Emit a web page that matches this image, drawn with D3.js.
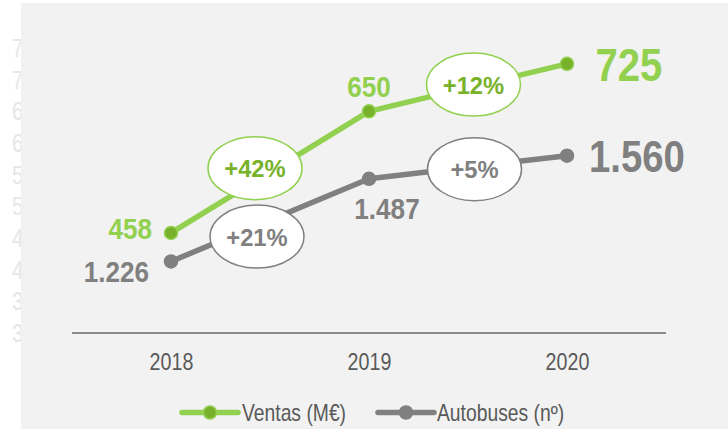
<!DOCTYPE html>
<html><head><meta charset="utf-8">
<script src="https://cdn.jsdelivr.net/npm/d3@7"></script>
<style>
html,body{margin:0;padding:0;background:#fff;}
svg{display:block;}
text{font-family:"Liberation Sans",Arial,sans-serif;}
</style></head>
<body>
<svg id="c" width="728" height="429"></svg>
<script>
const years = ["2018","2019","2020"];
const ventas = [458, 650, 725];
const autobuses = [1226, 1487, 1560];
const ventasLabels = ["458","650","725"];
const autobusesLabels = ["1.226","1.487","1.560"];
const ventasGrowth = ["+42%","+12%"];
const autobusesGrowth = ["+21%","+5%"];
const leftTicks = [300,350,400,450,500,550,600,650,700,750];
const seriesNames = ["Ventas (M€)","Autobuses (nº)"];

const svg = d3.select("#c");
const GREEN = "#92d050", GREEN_D = "#77b22a", GRAY = "#808080";

function txt(g, x, y, str, o){
  return g.append("text")
    .attr("transform",`translate(${x},${y}) scale(${o.sx||0.82},1)`)
    .attr("text-anchor",o.anchor||"start")
    .attr("font-size",o.fs).attr("font-weight",o.fw||"normal")
    .attr("fill",o.fill).text(str);
}

const x = d3.scalePoint().domain(years).range([72,666]).padding(0.5);
const yL = d3.scaleLinear().domain([300,750]).range([333,48]);
const yR = d3.scaleLinear().domain([1000,1900]).range([333,48]);

// faint left axis labels (mostly hidden by panel)
const lab = svg.append("g");
leftTicks.forEach(d=>txt(lab,12,yL(d)+9,d,{fs:25,fill:"#e6e6e6",sx:0.82}));

svg.append("rect").attr("x",21).attr("y",3).attr("width",707).attr("height",426).attr("fill","#f2f2f2");

// x axis
const xa = svg.append("g").attr("transform","translate(0,333)")
  .call(d3.axisBottom(x).tickSize(0).tickPadding(0));
xa.select(".domain").attr("stroke","#8a8a8a").attr("stroke-width",2).attr("d","M72,0H666");
xa.selectAll(".tick text").attr("y",0).attr("dy",null)
  .attr("transform","translate(0,37) scale(0.82,1)")
  .attr("font-size",24).attr("fill","#595959")
  .attr("font-family","'Liberation Sans',Arial,sans-serif");

const series = [
  {vals:ventas, y:yL, color:GREEN, dot:GREEN_D, labels:ventasLabels, growth:ventasGrowth, gColor:GREEN_D,
   lab:[{dx:-19,dy:6,a:"end",fs:30},{dx:0,dy:-14,a:"middle",fs:30},{dx:28.5,dy:17,a:"start",fs:46}],
   ell:[{dx:-15,dy:-4},{dx:5.5,dy:-3}]},
  {vals:autobuses, y:yR, color:GRAY, dot:GRAY, labels:autobusesLabels, growth:autobusesGrowth, gColor:GRAY,
   lab:[{dx:-22,dy:21,a:"end",fs:30},{dx:18,dy:40,a:"middle",fs:30},{dx:22,dy:16,a:"start",fs:44}],
   ell:[{dx:-13,dy:16.5},{dx:6.5,dy:2}]}
];

series.forEach(s=>{
  const pts = years.map((yr,i)=>[x(yr), s.y(s.vals[i])]);
  svg.append("path").attr("d",d3.line()(pts)).attr("fill","none")
    .attr("stroke",s.color).attr("stroke-width",5.5).attr("stroke-linejoin","round");
  svg.selectAll(null).data(pts).join("circle")
    .attr("cx",d=>d[0]).attr("cy",d=>d[1]).attr("r",6.5)
    .attr("fill",s.dot).attr("stroke",s.color).attr("stroke-width",1.5);
  const tg = svg.append("g");
  pts.forEach((d,i)=>{
    const L = s.lab[i];
    txt(tg, d[0]+L.dx, d[1]+L.dy, s.labels[i], {fs:L.fs, fw:"bold", fill:s.color, anchor:L.a, sx:0.87});
  });
});

series.forEach(s=>{
  const eg = svg.append("g");
  s.growth.forEach((g,i)=>{
    const a=[x(years[i]), s.y(s.vals[i])], b=[x(years[i+1]), s.y(s.vals[i+1])];
    const cx=(a[0]+b[0])/2+s.ell[i].dx, cy=(a[1]+b[1])/2+s.ell[i].dy;
    eg.append("ellipse").attr("cx",cx).attr("cy",cy).attr("rx",47).attr("ry",31.5)
      .attr("fill","#fff").attr("stroke",s.color).attr("stroke-width",1.5);
    txt(eg, cx, cy+9, g, {fs:24.5, fw:"bold", fill:s.gColor, anchor:"middle", sx:0.97});
  });
});

// legend
const leg = [{x1:182,x2:238,tx:242,color:GREEN,dot:GREEN_D,name:seriesNames[0]},
             {x1:378,x2:434,tx:437,color:GRAY,dot:GRAY,name:seriesNames[1]}];
const lg = svg.append("g");
leg.forEach(l=>{
  lg.append("line").attr("x1",l.x1).attr("x2",l.x2).attr("y1",412.5).attr("y2",412.5)
    .attr("stroke",l.color).attr("stroke-width",5.5).attr("stroke-linecap","round");
  lg.append("circle").attr("cx",(l.x1+l.x2)/2).attr("cy",412.5).attr("r",6.5)
    .attr("fill",l.dot).attr("stroke",l.color).attr("stroke-width",1.5);
  txt(lg, l.tx, 421, l.name, {fs:23, fill:"#595959", sx:0.84});
});
</script>
</body></html>
